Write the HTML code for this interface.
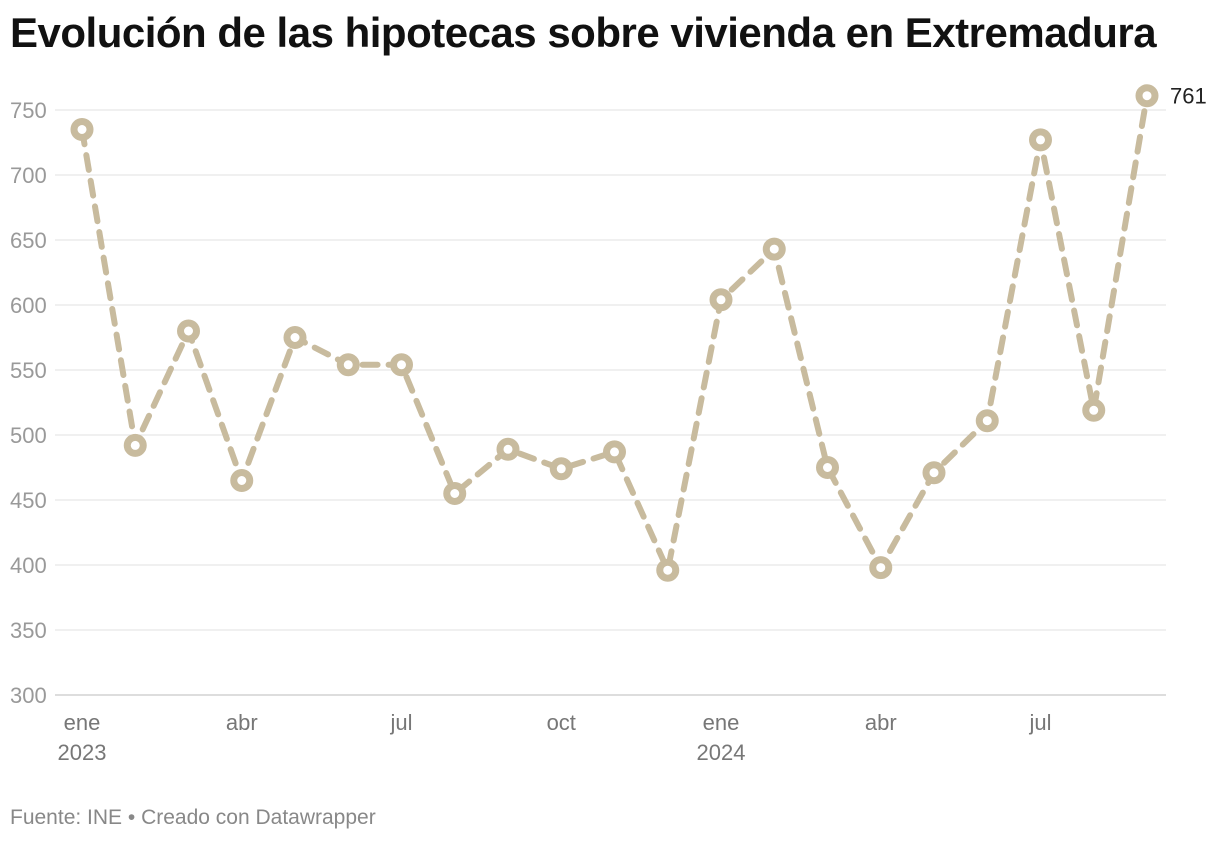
<!DOCTYPE html>
<html><head><meta charset="utf-8">
<style>
body{margin:0;background:#fff;width:1220px;height:842px;overflow:hidden;font-family:"Liberation Sans",sans-serif;}
h1{position:absolute;left:10px;top:9px;margin:0;font-size:42px;font-weight:bold;color:#111;letter-spacing:-0.5px;}
.foot{position:absolute;left:10px;top:806px;font-size:21px;color:#888;}
svg{position:absolute;left:0;top:0;}
</style></head><body>
<h1>Evolución de las hipotecas sobre vivienda en Extremadura</h1>
<svg id="chart" width="1220" height="842"></svg>
<div class="foot">Fuente: INE • Creado con Datawrapper</div>
<script>
const values=[735,492,580,465,575,554,554,455,489,474,487,396,604,643,475,398,471,511,727,519,761];
const yTicks=[300,350,400,450,500,550,600,650,700,750];
const xLabelIdx=[0,3,6,9,12,15,18];
const xLabels=["ene","abr","jul","oct","ene","abr","jul"];
const xYears={0:"2023",12:"2024"};
const NS="http://www.w3.org/2000/svg";
const svg=document.getElementById('chart');
const x0=82,dx=53.25,yBase=695,yScale=1.3;
const X=i=>x0+i*dx, Y=v=>yBase-(v-300)*yScale;
function mk(t,a){const e=document.createElementNS(NS,t);for(const k in a)e.setAttribute(k,a[k]);svg.appendChild(e);return e;}
yTicks.forEach(v=>{
 const l=mk('line',{x1:55,x2:1166,y1:Y(v),y2:Y(v),stroke:v===300?'#bbb':'#e0e0e0','stroke-width':1});
 
 
 const t=mk('text',{x:10,y:Y(v)+8,'font-size':22,fill:'#999'});t.textContent=v;
 
 
});
xLabelIdx.forEach((idx,j)=>{
 const t=mk('text',{x:X(idx),y:730,'font-size':22,fill:'#777','text-anchor':'middle'});t.textContent=xLabels[j];
 
 
 if(xYears[idx]){const y=mk('text',{x:X(idx),y:760,'font-size':22,fill:'#777','text-anchor':'middle'});y.textContent=xYears[idx];
 
 }
});
const p=mk('polyline',{points:values.map((v,i)=>X(i)+','+Y(v)).join(' '),fill:'none',stroke:'#c8bb9e','stroke-width':6,'stroke-dasharray':'15 11','stroke-linecap':'round'});


values.forEach((v,i)=>{
 const c=mk('circle',{cx:X(i),cy:Y(v),r:8,fill:'#fff',stroke:'#c8bb9e','stroke-width':7});
 
 
});
const last=values.length-1;
const lb=mk('text',{x:X(last)+23,y:Y(values[last])+8,'font-size':22,fill:'#222'});lb.textContent=values[last];


</script>
</body></html>
